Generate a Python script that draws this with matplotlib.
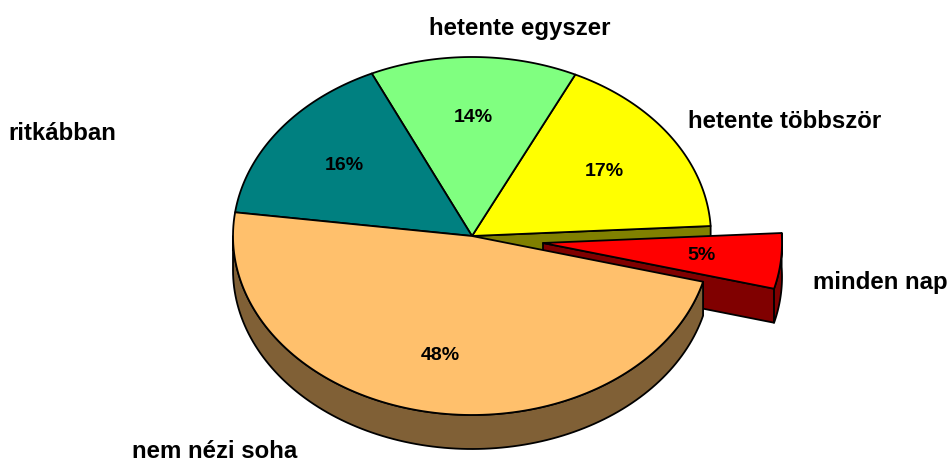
import numpy as np
import matplotlib
matplotlib.use('Agg')
import matplotlib.pyplot as plt
from matplotlib.patches import Polygon

# share of answers, counter-clockwise from the right side of the pie
labels = ['hetente többször', 'hetente egyszer', 'ritkábban', 'nem nézi soha', 'minden nap']
values = [17, 14, 16, 48, 5]

colors = ['#FFFF00', '#80FF80', '#008080', '#FFC06C', '#FF0000']
side_colors = ['#808000', '#408040', '#004040', '#806036', '#800000']

cx, cy = 472, 236
rx, ry = 239, 179
depth = 34
start = 3.2
shift = [(0, 0), (0, 0), (0, 0), (0, 0), (71, 7)]

label_pos = [(785, 122), (520, 29), (62, 133), (215, 452), (880, 283)]
pct_pos = [(604, 171), (473, 117), (344, 166), (440, 355), (702, 256)]

plt.rcParams['font.family'] = ['Liberation Sans', 'DejaVu Sans']

fig = plt.figure(figsize=(9.51, 4.63), dpi=100)
ax = fig.add_axes([0, 0, 1, 1])
ax.set_xlim(0, 951)
ax.set_ylim(463, 0)
ax.axis('off')


def ell(a, dx=0, dy=0):
    a = np.radians(a)
    return np.column_stack([cx + dx + rx * np.cos(a), cy + dy - ry * np.sin(a)])


def poly(pts, color, z):
    ax.add_patch(Polygon(pts, closed=True, facecolor=color, edgecolor='black', lw=1.3, joinstyle='round', zorder=z))


# slice angles
edges = start + np.cumsum([0] + values) * 3.6
spans = [(edges[i], edges[i + 1]) for i in range(len(values))]

# cut face of the yellow slice, seen through the gap
p = ell(np.array([start]))[0]
poly([(cx, cy), p, (p[0], p[1] + depth), (cx, cy + depth)], side_colors[0], 1)

# exploded slice with its side walls
a0, a1 = spans[4]
dx, dy = shift[4]
tip = (cx + dx, cy + dy)
arc = ell(np.linspace(a0, a1, 30), dx, dy)
low = ell(np.array([a0]), dx, dy)[0]
poly([tip, low, (low[0], low[1] + depth), (tip[0], tip[1] + depth)], side_colors[4], 2)
poly(np.vstack([arc, arc[::-1] + [0, depth]]), side_colors[4], 2)
poly(np.vstack([[tip], arc]), colors[4], 3)

# outer wall of the big slice
a0, a1 = spans[3]
arc = ell(np.linspace(180, a1, 120))
poly(np.vstack([arc, arc[::-1] + [0, depth]]), side_colors[3], 4)

# top faces
for i in range(4):
    a0, a1 = spans[i]
    arc = ell(np.linspace(a0, a1, 120))
    poly(np.vstack([[(cx, cy)], arc]), colors[i], 5)

for i in range(len(values)):
    ax.text(label_pos[i][0], label_pos[i][1], labels[i], ha='center', va='center',
            fontsize=17.3, fontweight='bold', color='black', zorder=6)
    ax.text(pct_pos[i][0], pct_pos[i][1], str(values[i]) + '%', ha='center', va='center',
            fontsize=14, fontweight='bold', color='black', zorder=6)

fig.savefig('out.png', dpi=100)
